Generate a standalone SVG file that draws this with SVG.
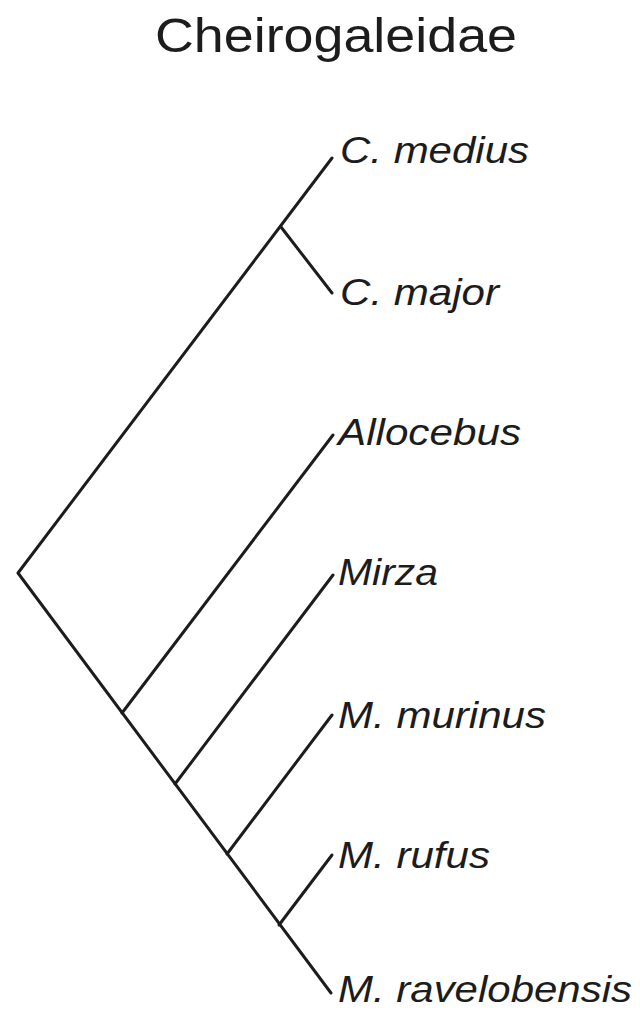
<svg xmlns="http://www.w3.org/2000/svg" width="640" height="1015" viewBox="0 0 640 1015">
<style>
.br{stroke:#1c1c1c;stroke-width:3;fill:none;stroke-linecap:round;stroke-linejoin:round}
.lbl{font-family:"Liberation Sans",Arial,sans-serif;font-style:italic;font-size:37px;fill:#1c1c1c}
.title{font-family:"Liberation Sans",Arial,sans-serif;font-size:48px;fill:#1c1c1c}
</style>
<rect width="640" height="1015" fill="#ffffff"/>
<text id="title" class="title" x="155" y="52" textLength="362" lengthAdjust="spacingAndGlyphs">Cheirogaleidae</text>
<g id="connectors">
<path class="br" d="M332,158 L18,573 L331,993"/>
<path class="br" d="M281,227 L332,293"/>
<path class="br" d="M122,713 L333,435"/>
<path class="br" d="M175,784 L333,575"/>
<path class="br" d="M227,854 L332,715"/>
<path class="br" d="M279,925 L332,855"/>
</g>
<g id="n-cmedius"><text class="lbl" x="340" y="163" textLength="189" lengthAdjust="spacingAndGlyphs">C. medius</text></g>
<g id="n-cmajor"><text class="lbl" x="340" y="305" textLength="159" lengthAdjust="spacingAndGlyphs">C. major</text></g>
<g id="n-allocebus"><text class="lbl" x="338" y="445" textLength="183" lengthAdjust="spacingAndGlyphs">Allocebus</text></g>
<g id="n-mirza"><text class="lbl" x="338" y="585" textLength="100" lengthAdjust="spacingAndGlyphs">Mirza</text></g>
<g id="n-mmurinus"><text class="lbl" x="338" y="728" textLength="208" lengthAdjust="spacingAndGlyphs">M. murinus</text></g>
<g id="n-mrufus"><text class="lbl" x="338" y="868" textLength="152" lengthAdjust="spacingAndGlyphs">M. rufus</text></g>
<g id="n-mravelobensis"><text class="lbl" x="338" y="1002" textLength="294" lengthAdjust="spacingAndGlyphs">M. ravelobensis</text></g>
</svg>
